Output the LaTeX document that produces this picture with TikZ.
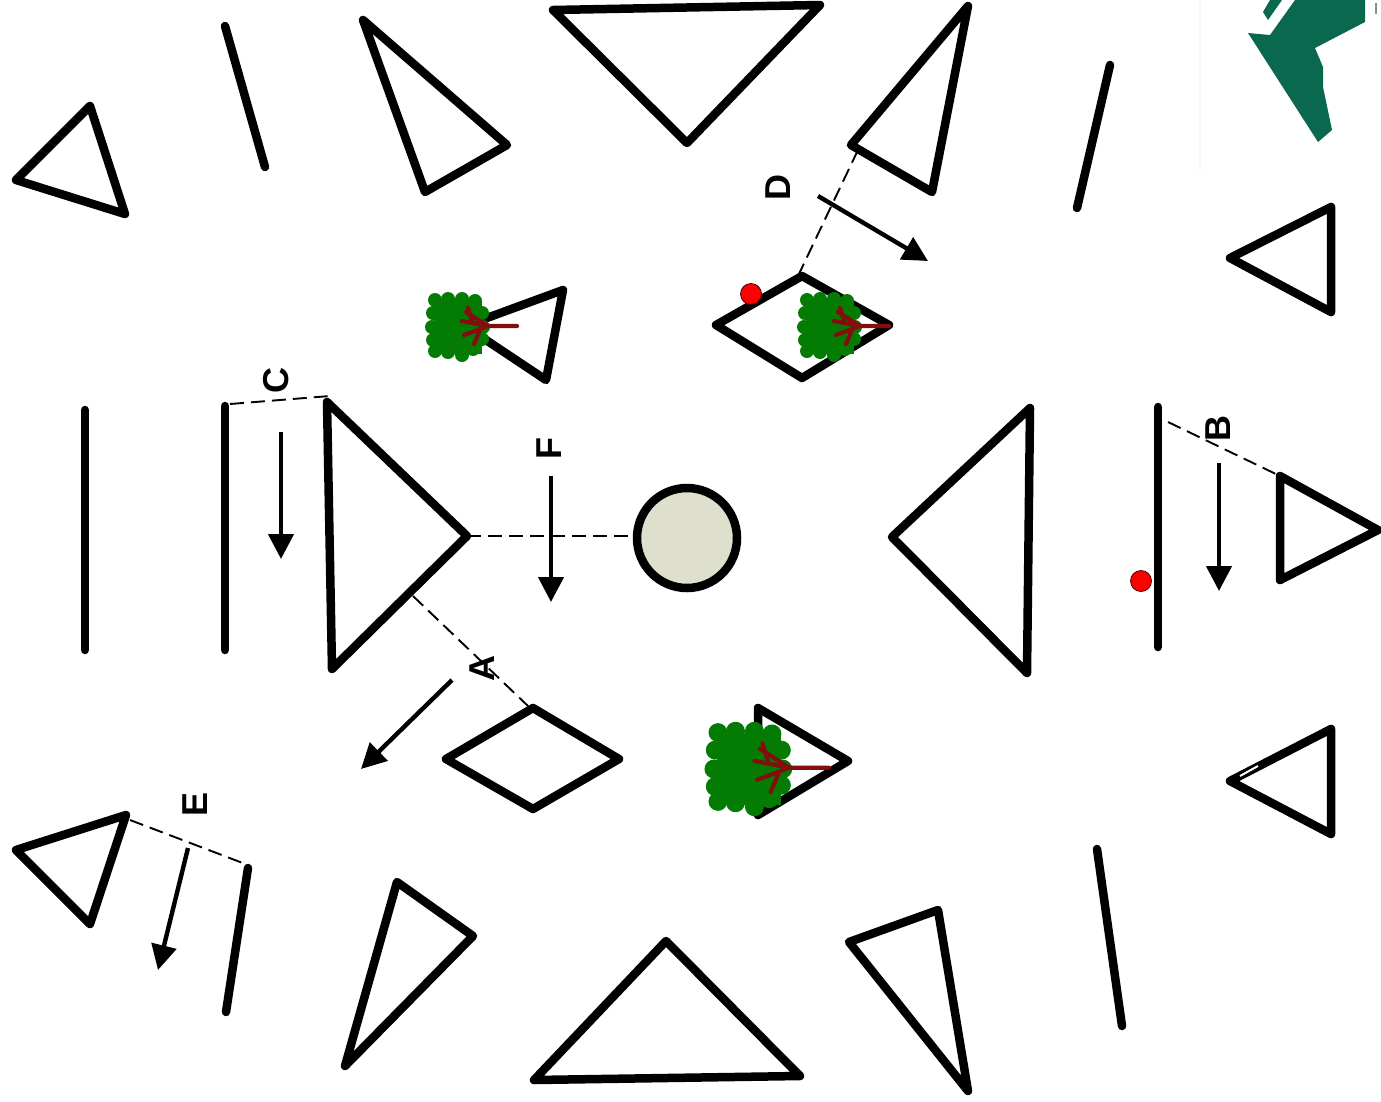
\documentclass[tikz,border=0pt]{standalone}
\usepackage{fontspec}
\setmainfont{Liberation Sans}
\usetikzlibrary{arrows.meta}
\definecolor{logogreen}{RGB}{10,104,78}
\definecolor{treegreen}{RGB}{4,124,4}
\definecolor{trunkred}{RGB}{130,14,14}
\definecolor{hubgrey}{RGB}{222,224,205}
\tikzset{
  outline/.style={draw=black,line width=8.5pt,line join=round,line cap=round},
  sightline/.style={draw=black,line width=1.9pt,dash pattern=on 14pt off 7pt},
  viewarrow/.style={draw=black,line width=4.4pt,-{Triangle[length=25pt,width=25pt]}},
  viewlabel/.style={font=\fontsize{36}{36}\selectfont\bfseries,rotate=90,inner sep=0pt},
  marker/.style={circle,fill=red,draw=black!70!red,line width=0.8pt,minimum size=21pt,inner sep=0pt},
  treeicon/.pic={
    \fill[treegreen] (-24,-27) rectangle (24,27);
    \foreach \a/\b in {-23/-27,-10/-28,4/-28,17/-26,24/-14,-25/-14,-26/0,-25/13,-23/24,-10/25,4/28,15/22,24/12,25/0}
      \fill[treegreen] (\a,\b) circle (7);
    \draw[trunkred,line width=4.2pt,line cap=round]
      (59,-1)--(30,-1) (30,-1)--(8,-15) (30,-1)--(4,-6) (30,-1)--(6,8) (22,3)--(16,17) (14,-6)--(10,-19);
  }
}
\begin{document}
\begin{tikzpicture}[x=1pt,y=-1pt]
  \useasboundingbox (0,0) rectangle (1381,1101);
  % logo corner
  \draw[black!4,line width=1.5pt] (1200,0)--(1200,170);
  \fill[logogreen] (1248,33)--(1270,35)--(1295,0)--(1365,0)--(1365,22)--(1315,48)--(1323,67)--(1323,87)--(1332,130)--(1318,142)--cycle;
  \fill[logogreen] (1263,12)--(1268,20)--(1282,0)--(1270,0)--cycle;
  \draw[black!45,line width=2.5pt] (1376,3)--(1376,14);
  % top row
  \draw[outline] (16,180)--(90,106)--(125,214)--cycle;
  \draw[outline] (225,26)--(265,167);
  \draw[outline] (363,20)--(507,145)--(425,192)--cycle;
  \draw[outline] (553,10)--(820,5)--(687,143)--cycle;
  \draw[outline] (968,6)--(851,145)--(932,192)--cycle;
  \draw[outline] (1110,65)--(1077,208);
  \draw[outline] (1331,207)--(1230,258)--(1331,312)--cycle;
  % inner row
  \draw[outline] (563,290)--(465,326)--(546,380)--cycle;
  \draw[outline] (716,325)--(802,276)--(889,325)--(802,378)--cycle;
  % middle row
  \draw[outline] (85,410)--(85,650);
  \draw[outline] (225,406)--(225,650);
  \draw[outline] (327,402)--(467,536)--(332,669)--cycle;
  \draw[outline,fill=hubgrey] (687,538) circle (50);
  \draw[outline] (1030,408)--(892,537)--(1027,673)--cycle;
  \draw[outline] (1158,407)--(1158,647);
  \draw[outline] (1280,476)--(1378,530)--(1280,580)--cycle;
  % lower inner row
  \draw[outline] (446,759)--(533,708)--(619,759)--(533,809)--cycle;
  \draw[outline] (758,708)--(848,761)--(758,815)--cycle;
  \draw[outline] (1331,729)--(1230,781)--(1331,834)--cycle;
  \draw[white,line width=2pt] (1240,776)--(1258,766);
  % bottom row
  \draw[outline] (126,815)--(16,850)--(90,924)--cycle;
  \draw[outline] (248,868)--(226,1012);
  \draw[outline] (397,882)--(473,936)--(345,1066)--cycle;
  \draw[outline] (666,941)--(800,1076)--(534,1080)--cycle;
  \draw[outline] (938,910)--(849,942)--(968,1091)--cycle;
  \draw[outline] (1097,849)--(1122,1026);
  % trees and markers
  \pic at (458,327) {treeicon};
  \pic at (830,327) {treeicon};
  \pic[yscale=1.35,xscale=1.35] at (749,769) {treeicon};
  \node[marker] (markerD) at (751,294) {};
  \node[marker] (markerB) at (1141,581) {};
  % sight lines
  \coordinate (sightFa) at (467,536);
  \coordinate (sightFb) at (635,536);
  \coordinate (sightAa) at (413,596);
  \coordinate (sightAb) at (528,706);
  \coordinate (sightBa) at (1168,422);
  \coordinate (sightBb) at (1280,476);
  \coordinate (sightCa) at (230,404);
  \coordinate (sightCb) at (330,396);
  \coordinate (sightDa) at (858,150);
  \coordinate (sightDb) at (798,276);
  \coordinate (sightEa) at (130,820);
  \coordinate (sightEb) at (248,865);
  \draw[sightline] (sightFa)--(sightFb);
  \draw[sightline] (sightAa)--(sightAb);
  \draw[sightline] (sightBa)--(sightBb);
  \draw[sightline] (sightCa)--(sightCb);
  \draw[sightline] (sightDa)--(sightDb);
  \draw[sightline] (sightEa)--(sightEb);
  % view arrows
  \coordinate (arrowFa) at (551,476);
  \coordinate (arrowFb) at (551,602);
  \coordinate (arrowCa) at (281,432);
  \coordinate (arrowCb) at (281,559);
  \coordinate (arrowBa) at (1219,463);
  \coordinate (arrowBb) at (1219,591);
  \coordinate (arrowAa) at (452,680);
  \coordinate (arrowAb) at (361,769);
  \coordinate (arrowDa) at (818,196);
  \coordinate (arrowDb) at (928,261);
  \coordinate (arrowEa) at (188,848);
  \coordinate (arrowEb) at (158,970);
  \draw[viewarrow] (arrowFa)--(arrowFb);
  \draw[viewarrow] (arrowCa)--(arrowCb);
  \draw[viewarrow] (arrowBa)--(arrowBb);
  \draw[viewarrow] (arrowAa)--(arrowAb);
  \draw[viewarrow] (arrowDa)--(arrowDb);
  \draw[viewarrow] (arrowEa)--(arrowEb);
  % labels
  \node[viewlabel] (labelA) at (482,668) {A};
  \node[viewlabel] (labelB) at (1218,428) {B};
  \node[viewlabel] (labelC) at (276,380) {C};
  \node[viewlabel] (labelD) at (778,187) {D};
  \node[viewlabel] (labelE) at (195,804) {E};
  \node[viewlabel] (labelF) at (549,448) {F};
\end{tikzpicture}
\end{document}
